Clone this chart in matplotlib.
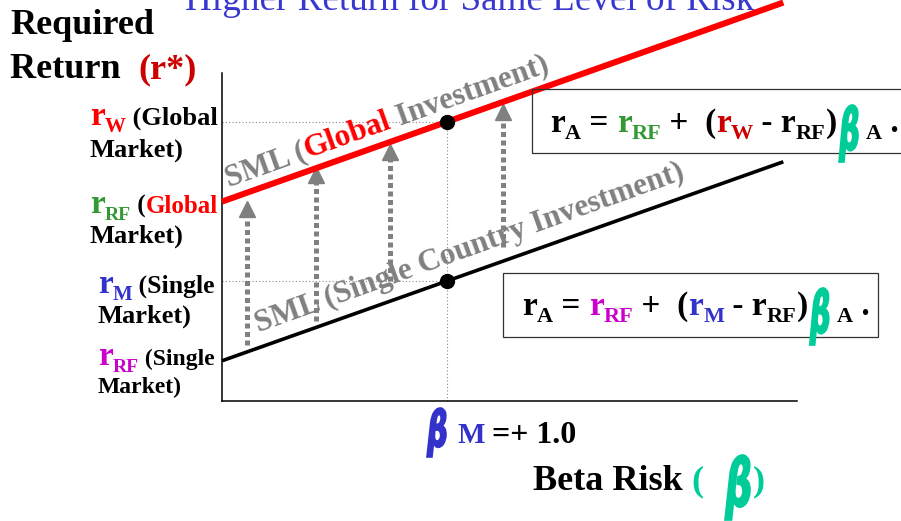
import numpy as np
import matplotlib
matplotlib.use("Agg")
import matplotlib.pyplot as plt
import matplotlib.transforms as mtransforms
from matplotlib.font_manager import FontProperties
from matplotlib.textpath import TextPath
from matplotlib.patches import PathPatch, Rectangle

# ---- data -------------------------------------------------------------
sml_beta = [0.0, 2.5]              # beta range covered by both SML lines
single_returns = [2.0, 7.0]        # single-country SML at the ends of that range
global_returns = [6.0, 11.0]       # global SML at the ends of that range
market_beta = 1.0
rf_single, rm_single = 2.0, 4.0
rf_global, rw_global = 6.0, 8.0

arrow_beta = [0.11, 0.42, 0.75, 1.25]
arrow_from = [2.40, 3.00, 4.00, 4.85]
arrow_to = [6.00, 6.85, 7.42, 8.43]

# ---- styles -----------------------------------------------------------
W, H = 901, 521
SERIF = "Liberation Serif"
RED = "#FF0000"
DKRED = "#CC0000"
GREEN = "#339933"
MAGENTA = "#CC00CC"
BLUE = "#3333CC"
TEAL = "#00CC99"
GRAY = "#808080"

fig = plt.figure(figsize=(W / 100, H / 100), dpi=100)
fig.patch.set_facecolor("white")

ax = fig.add_axes([222 / W, 1 - 401 / H, 575 / W, 328 / H])
ax.set_xlim(0, 2.561)
ax.set_ylim(0.99, 9.23)
ax.set_xticks([])
ax.set_yticks([])
for side in ("top", "right"):
    ax.spines[side].set_visible(False)
for side in ("left", "bottom"):
    ax.spines[side].set_linewidth(1.1)
    ax.spines[side].set_color("black")
ax.patch.set_alpha(0)

# reference guides at beta = 1
ref_style = dict(color="#8a8a8a", lw=0.8, linestyle=(0, (1, 2)), zorder=1)
ax.plot([0, market_beta], [rw_global, rw_global], **ref_style)
ax.plot([0, market_beta], [rm_single, rm_single], **ref_style)
ax.plot([market_beta, market_beta], [0.99, rw_global], **ref_style)

# security market lines
ax.plot(sml_beta, single_returns, color="black", lw=2.6, solid_capstyle="butt",
        zorder=3, clip_on=False)
ax.plot(sml_beta, global_returns, color=RED, lw=4.4, solid_capstyle="butt",
        zorder=3, clip_on=False)

# market points
ax.plot([market_beta, market_beta], [rm_single, rw_global], "o", color="black",
        ms=10, zorder=5, clip_on=False)

# upward shift arrows (dotted shafts with solid heads)
head_shift = mtransforms.ScaledTranslation(0, -7.0 / 100, fig.dpi_scale_trans)
for b, y0, y1 in zip(arrow_beta, arrow_from, arrow_to):
    ax.plot([b, b], [y0, y1 - 0.3], color=GRAY, lw=3.6, dashes=(1.0, 0.7),
            solid_capstyle="butt", dash_capstyle="butt", zorder=2)
    ax.plot([b], [y1], marker="^", ms=11.5, color=GRAY, mec=GRAY,
            transform=ax.transData + head_shift, zorder=2, clip_on=False)


# ---- text helpers -----------------------------------------------------
renderer = fig.canvas.get_renderer()


def advance(txt, size, weight="bold", family=SERIF):
    fp = FontProperties(family=family, weight=weight, size=size)
    w1 = renderer.get_text_width_height_descent(txt + "|", fp, ismath=False)[0]
    w2 = renderer.get_text_width_height_descent("|", fp, ismath=False)[0]
    return w1 - w2


def rich(x, y, pieces, transform=None, angle=0.0, weight="bold"):
    """Draw coloured text pieces one after another along a baseline.
    Returns the advance in pixels."""
    if transform is None:
        transform = fig.transFigure
        x, y = x / W, 1 - y / H
    c, s = np.cos(np.radians(angle)), np.sin(np.radians(angle))
    adv = 0.0
    for txt, color, size, drop in pieces:
        dx = adv * c + drop * s
        dy = adv * s - drop * c
        tr = mtransforms.offset_copy(transform, fig=fig, x=dx, y=dy, units="dots")
        fig.text(x, y, txt, transform=tr, color=color, fontsize=size,
                 family=SERIF, weight=weight, rotation=angle,
                 rotation_mode="anchor", ha="left", va="baseline", zorder=6)
        adv += advance(txt, size, weight)
    return adv


_beta_path = TextPath((0, 0), "β", size=1,
                      prop=FontProperties(family="DejaVu Sans", weight="bold",
                                          style="oblique"))


def beta_glyph(x0, y0, x1, y1, color):
    """Hand-style beta squeezed into the pixel box (x0, y0)-(x1, y1)."""
    ext = _beta_path.get_extents()
    sx = (x1 - x0) / ext.width
    sy = (y1 - y0) / ext.height
    t = (mtransforms.Affine2D().translate(-ext.x0, -ext.y0).scale(sx, sy)
         .translate(x0, H - y1).scale(1 / W, 1 / H) + fig.transFigure)
    fig.add_artist(PathPatch(_beta_path, transform=t, fc=color, ec=color,
                             lw=1.2, zorder=7))


# ---- titles -----------------------------------------------------------
fig.text(185 / W, 1 - 10 / H, "Higher Return for Same Level of Risk",
         color="#3838D0", fontsize=26.7, family=SERIF, ha="left", va="baseline")
rich(10, 34, [("Required", "black", 26, 0)])
rich(10, 78, [("Return  ", "black", 26, 0), ("(r*)", DKRED, 26, 0)])

# ---- y labels ---------------------------------------------------------
rich(90, 125, [("r", RED, 24, 0), ("W", RED, 15, 7), (" (Global", "black", 19, 0)])
rich(90, 157, [("Market)", "black", 19, 0)])
rich(90, 213, [("r", GREEN, 24, 0), ("RF", GREEN, 14, 7), (" (", "black", 18, 0),
               ("Global", RED, 18, 0)])
rich(90, 243, [("Market)", "black", 19, 0)])
rich(98, 293, [("r", BLUE, 24, 0), ("M", BLUE, 15, 7), (" (Single", "black", 18.5, 0)])
rich(98, 323, [("Market)", "black", 19, 0)])
rich(98, 365, [("r", MAGENTA, 24, 0), ("RF", MAGENTA, 14, 7), (" (Single", "black", 17, 0)])
rich(98, 393, [("Market)", "black", 17, 0)])

# ---- SML captions along the lines ---------------------------------------
rich(0.03, 6.38, [("SML (", GRAY, 22.5, 0), ("Global", RED, 22.5, 0),
                  (" Investment)", GRAY, 22.5, 0)],
     transform=ax.transData, angle=19.8)
rich(0.165, 2.72, [("SML (Single Country Investment)", GRAY, 22.5, 0)],
     transform=ax.transData, angle=19.8)

# ---- equation boxes ---------------------------------------------------
fig.add_artist(Rectangle((532 / W, 1 - 153 / H), 1.0, 64 / H, transform=fig.transFigure,
                         fill=False, ec="#333333", lw=0.9, zorder=6))
fig.add_artist(Rectangle((503 / W, 1 - 337 / H), 375 / W, 64 / H, transform=fig.transFigure,
                         fill=False, ec="#333333", lw=0.9, zorder=6))


def equation(x, y, first, second, rpart):
    a = rich(x, y, [("r", "black", 24, 0), ("A", "black", 16, 7), (" = ", "black", 24, 0),
                    ("r", first, 24, 0), ("RF", first, 16, 7), (" +  (", "black", 24, 0),
                    ("r", second, 24, 0), (rpart, second, 16, 7), (" - r", "black", 24, 0),
                    ("RF", "black", 16, 7), (")", "black", 24, 0)])
    bx = x + a + 2
    beta_glyph(bx, y - 27, bx + 19, y + 30, TEAL)
    rich(bx + 27, y, [("A", "black", 16, 7), (" .", "black", 24, 0)])


equation(550, 132, GREEN, DKRED, "W")
equation(522, 315, MAGENTA, BLUE, "M")

# ---- x labels ---------------------------------------------------------
beta_glyph(427, 408, 446, 457, BLUE)
rich(457, 443, [("M", BLUE, 21, 0), (" =+ 1.0", "black", 23, 0)])

a = rich(533, 490, [("Beta Risk ", "black", 26, 0), ("(", TEAL, 26, 0)])
beta_glyph(725, 455, 750, 520, TEAL)
rich(753, 490, [(")", TEAL, 26, 0)])

fig.savefig("out.png", dpi=100, facecolor="white")
